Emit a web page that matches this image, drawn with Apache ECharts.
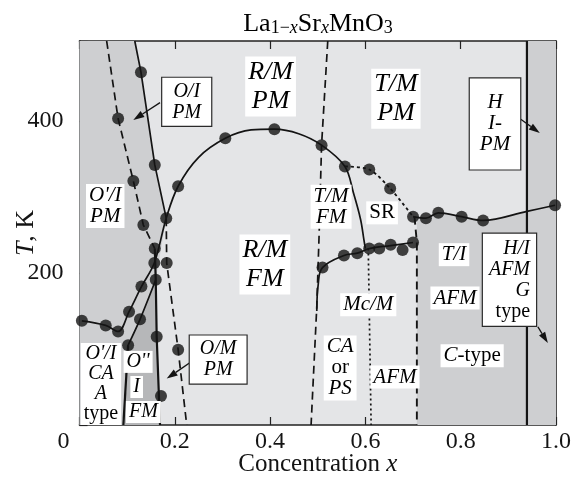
<!DOCTYPE html>
<html>
<head>
<meta charset="utf-8">
<script src="https://cdn.jsdelivr.net/npm/echarts@6/dist/echarts.min.js"></script>
<style>
  html, body { margin: 0; padding: 0; background: #ffffff; }
  #chart { width: 578px; height: 482px; }
</style>
</head>
<body>
<div id="chart"></div>
<script>
// ---- axes -------------------------------------------------------------
const X_MIN = 0, X_MAX = 1.0, X_STEP = 0.2;
const T_MIN = 0, T_MAX = 505, T_STEP = 200;
const T_LABELS = [200, 400];

// ---- phase boundaries (x, T in K) -------------------------------------
const leftDashed  = [[0.057, 505], [0.081, 403], [0.113, 321], [0.134, 263], [0.158, 232]];
const steepSolid  = [[0.116, 505], [0.129, 464], [0.158, 342], [0.182, 272]];
const steepDashed = [[0.182, 272], [0.183, 213], [0.207, 99], [0.225, 0]];
const tcCurve = [[0.005, 137], [0.055, 131], [0.081, 123], [0.104, 149], [0.130, 182], [0.157, 213],
  [0.182, 272], [0.207, 314], [0.250, 352], [0.306, 377], [0.360, 388], [0.409, 389], [0.460, 383],
  [0.508, 368], [0.557, 340], [0.575, 305], [0.590, 270], [0.597, 243], [0.600, 232]];
const oppLeft  = [[0.092, 0], [0.102, 105]];
const oppTop   = [[0.102, 105], [0.127, 139], [0.160, 191]];
const oppRight = [[0.158, 232], [0.160, 191], [0.162, 116], [0.169, 0]];
const dashedMid   = [[0.521, 505], [0.508, 368], [0.503, 253], [0.498, 156], [0.486, 0]];
const dottedMid   = [[0.606, 232], [0.612, 0]];
const dashedAFM   = [[0.703, 274], [0.708, 240], [0.708, 0]];
const srDotted    = [[0.557, 340], [0.608, 336], [0.652, 311], [0.700, 274]];
const afmCurve    = [[0.498, 150], [0.501, 185], [0.510, 207], [0.555, 223], [0.583, 226],
  [0.608, 232], [0.653, 236], [0.700, 240]];
const rightCurve  = [[0.700, 274], [0.727, 272], [0.753, 279], [0.802, 274], [0.847, 269],
  [0.939, 281], [0.998, 289]];
const hexLine     = [[0.939, 0], [0.939, 505]];

// ---- measured points ---------------------------------------------------
const ptsTc     = [[0.005, 137], [0.055, 131], [0.081, 123], [0.104, 149], [0.130, 182], [0.157, 213],
  [0.182, 272], [0.207, 314], [0.306, 377], [0.409, 389], [0.508, 368], [0.557, 340]];
const ptsLeft   = [[0.081, 403], [0.113, 321], [0.134, 263], [0.158, 232]];
const ptsSteep  = [[0.129, 464], [0.158, 342], [0.183, 213], [0.207, 99]];
const ptsOpp    = [[0.102, 105], [0.127, 139], [0.160, 191], [0.162, 116], [0.171, 38]];
const ptsSR     = [[0.608, 336], [0.652, 311], [0.700, 274]];
const ptsAFM    = [[0.510, 207], [0.555, 223], [0.583, 226], [0.608, 232], [0.629, 232],
  [0.653, 237], [0.678, 230], [0.700, 240]];
const ptsRight  = [[0.727, 272], [0.753, 279], [0.802, 274], [0.847, 269], [0.998, 289]];

// ---- shaded phase regions ----------------------------------------------
const regionOI  = [[0, 0], [0, 505], [0.116, 505], [0.129, 464], [0.158, 342], [0.182, 272],
  [0.160, 191], [0.169, 0]];
const regionOpp = [[0.092, 0], [0.102, 105], [0.127, 139], [0.160, 191], [0.162, 116], [0.169, 0]];
const regionC   = [[0.708, 0], [0.708, 272], [0.727, 272], [0.753, 279], [0.802, 274], [0.847, 269],
  [0.939, 281], [0.939, 0]];
const regionH   = [[0.939, 0], [0.939, 505], [1.0, 505], [1.0, 0]];

// ---- phase labels: anchor (x, T), text lines ---------------------------
const LABELS = [
  { x: 0.401, T: 445, text: '{i|R/M}\n{i|PM}', size: 26, lh: 29, box: 'white' },
  { x: 0.664, T: 429, text: '{i|T/M}\n{i|PM}', size: 26, lh: 29, box: 'white' },
  { x: 0.389, T: 211, text: '{i|R/M}\n{i|FM}', size: 26, lh: 29, box: 'white' },
  { x: 0.225, T: 425, text: '{i|O/I}\n{i|PM}', size: 20, lh: 21, box: 'frame', pad: [3, 10] },
  { x: 0.054, T: 288, text: "{i|O'/I}\n{i|PM}", size: 21, lh: 21, box: 'white' },
  { x: 0.528, T: 287, text: '{i|T/M}\n{i|FM}', size: 21, lh: 21, box: 'white' },
  { x: 0.635, T: 279, text: '{r|SR}', size: 21, lh: 21, box: 'white' },
  { x: 0.786, T: 224, text: '{i|T/I}', size: 21, lh: 21, box: 'white' },
  { x: 0.788, T: 167, text: '{i|AFM}', size: 21, lh: 21, box: 'white' },
  { x: 0.824, T: 91,  text: '{i|C}{r|-type}', size: 21, lh: 21, box: 'white' },
  { x: 0.872, T: 396, text: '{i|H}\n{i|I-}\n{i|PM}', size: 21, lh: 21, box: 'frame', pad: [14, 10] },
  { x: 0.914, T: 191, text: '{i|H/I}\n{i|AFM}\n{i|G}\n{r|type}', size: 20, lh: 21, box: 'frame', pad: [4, 6], align: 'right' },
  { x: 0.291, T: 86,  text: '{i|O/M}\n{i|PM}', size: 20, lh: 21, box: 'frame', pad: [3, 10] },
  { x: 0.045, T: 54,  text: "{i|O'/I}\n{i|CA}\n{i|A}\n{r|type}", size: 20, lh: 20, box: 'white' },
  { x: 0.123, T: 83,  text: "{i|O''}", size: 20, lh: 20, box: 'white' },
  { x: 0.120, T: 50,  text: '{i|I}', size: 20, lh: 20, box: 'white' },
  { x: 0.134, T: 17,  text: '{i|FM}', size: 20, lh: 20, box: 'white' },
  { x: 0.547, T: 75,  text: '{i|CA}\n{r|or}\n{i|PS}', size: 21, lh: 21, box: 'white' },
  { x: 0.606, T: 158, text: '{i|Mc/M}', size: 21, lh: 21, box: 'white' },
  { x: 0.662, T: 63,  text: '{i|AFM}', size: 21, lh: 21, box: 'white' }
];

// ---- pointer arrows: from (x, T) to (x, T) -----------------------------
const ARROWS = [
  [0.169, 424, 0.113, 401],
  [0.926, 402, 0.966, 384],
  [0.962, 129, 0.983, 108],
  [0.246, 88, 0.183, 61]
];

const FONT = '"Liberation Serif", "Times New Roman", serif';
const INK = '#141414';
const BG_LIGHT = '#e4e5e7';
const BG_MID = '#cecfd1';
const BG_DARK = '#b6b7b9';

function region(points, color) {
  return {
    type: 'custom', silent: true, z: 1, clip: true,
    data: [points[0]],
    renderItem: (params, api) => ({
      type: 'polygon',
      shape: { points: points.map(p => api.coord(p)) },
      style: { fill: color }
    })
  };
}

function boundary(data, dash, width, smooth) {
  return {
    type: 'line', data: data, z: 3, silent: true, symbol: 'none',
    smooth: smooth || false,
    lineStyle: { color: INK, width: width || 1.7, type: dash || 'solid' }
  };
}

function points(data) {
  return {
    type: 'scatter', data: data, z: 6, silent: true,
    symbol: 'circle', symbolSize: 12,
    itemStyle: { color: INK }
  };
}

function richFor(size, lh) {
  return {
    i: { fontFamily: FONT, fontStyle: 'italic', fontSize: size, lineHeight: lh, color: INK },
    r: { fontFamily: FONT, fontStyle: 'normal', fontSize: size, lineHeight: lh, color: INK }
  };
}

const chart = echarts.init(document.getElementById('chart'), null, { renderer: 'canvas' });

const option = {
  animation: false,
  backgroundColor: '#ffffff',
  grid: {
    left: 79.5, right: 22, top: 41, bottom: 57,
    containLabel: false, outerBoundsMode: 'none',
    show: true, backgroundColor: BG_LIGHT, borderWidth: 0
  },
  graphic: [{
    type: 'text', x: 318, y: 22, z: 10,
    style: {
      text: '{a|La}{s|1−}{si|x}{a|Sr}{si|x}{a|MnO}{s|3}',
      align: 'center', verticalAlign: 'middle',
      rich: {
        a: { fontFamily: FONT, fontSize: 26, lineHeight: 30, verticalAlign: 'bottom', color: INK },
        s: { fontFamily: FONT, fontSize: 18, lineHeight: 14, verticalAlign: 'bottom', color: INK },
        si: { fontFamily: FONT, fontStyle: 'italic', fontSize: 18, lineHeight: 14, verticalAlign: 'bottom', color: INK }
      }
    }
  }],
  xAxis: [{
    type: 'value', position: 'bottom', min: X_MIN, max: X_MAX, interval: X_STEP,
    name: '{r|Concentration }{i|x}', nameLocation: 'middle', nameGap: 25, nameMoveOverlap: false,
    nameTextStyle: { rich: richFor(25, 28) },
    axisLine: { show: true, onZero: false, lineStyle: { color: '#222', width: 1.6 } },
    axisTick: { show: true, inside: true, length: 8, lineStyle: { color: '#222', width: 1.2 } },
    splitLine: { show: false },
    axisLabel: {
      margin: 5, fontFamily: FONT, fontSize: 24, color: INK,
      formatter: v => (Math.abs(v) < 1e-9 ? '{z|0}' : v.toFixed(1)),
      rich: { z: { fontFamily: FONT, fontSize: 24, color: INK, padding: [0, 32, 0, 0] } }
    }
  }, {
    type: 'value', position: 'top', min: X_MIN, max: X_MAX, interval: X_STEP,
    axisLine: { show: true, onZero: false, lineStyle: { color: '#222', width: 1.6 } },
    axisTick: { show: true, inside: true, length: 8, lineStyle: { color: '#222', width: 1.2 } },
    axisLabel: { show: false }, splitLine: { show: false }
  }],
  yAxis: [{
    type: 'value', position: 'left', min: T_MIN, max: T_MAX, interval: T_STEP,
    name: '{i|T}{r|, K}', nameLocation: 'middle', nameGap: 38, nameRotate: 90, nameMoveOverlap: false,
    nameTextStyle: { rich: richFor(26, 30) },
    axisLine: { show: true, onZero: false, lineStyle: { color: '#222', width: 1.6 } },
    axisTick: { show: true, inside: true, length: 8, lineStyle: { color: '#222', width: 1.2 } },
    splitLine: { show: false },
    axisLabel: {
      margin: 16, fontFamily: FONT, fontSize: 24, color: INK,
      formatter: v => (T_LABELS.indexOf(v) >= 0 ? String(v) : '')
    }
  }, {
    type: 'value', position: 'right', min: T_MIN, max: T_MAX, interval: T_STEP,
    axisLine: { show: true, onZero: false, lineStyle: { color: '#222', width: 1.6 } },
    axisTick: { show: false }, axisLabel: { show: false }, splitLine: { show: false }
  }],
  series: [
    region(regionOI, BG_MID),
    region(regionOpp, BG_DARK),
    region(regionC, BG_MID),
    region(regionH, BG_MID),

    boundary(leftDashed, [8, 5]),
    boundary(steepSolid),
    boundary(steepDashed, [8, 5]),
    boundary(tcCurve, 'solid', 1.7, 0.35),
    boundary(oppLeft, 'solid', 2.2),
    boundary(oppTop, 'solid', 1.7, 0.3),
    boundary(oppRight, 'solid', 2.2),
    boundary(dashedMid, [8, 5]),
    boundary(dottedMid, [2, 3]),
    boundary(dashedAFM, [8, 5], 1.9),
    boundary(srDotted, [3, 3], 1.8, 0.3),
    boundary(afmCurve, 'solid', 1.7, 0.4),
    boundary(rightCurve, 'solid', 1.7, 0.35),
    boundary(hexLine, 'solid', 2.2),

    points(ptsTc), points(ptsLeft), points(ptsSteep), points(ptsOpp),
    points(ptsSR), points(ptsAFM), points(ptsRight),

    {
      type: 'custom', z: 7, silent: true, clip: false,
      data: ARROWS.map(a => [a[0], a[1]]),
      renderItem: (params, api) => {
        const a = ARROWS[params.dataIndex];
        const p1 = api.coord([a[0], a[1]]);
        const p2 = api.coord([a[2], a[3]]);
        const ang = Math.atan2(p2[1] - p1[1], p2[0] - p1[0]);
        const L = 11, W = 3.6;
        const bx = p2[0] - L * Math.cos(ang), by = p2[1] - L * Math.sin(ang);
        const nx = -Math.sin(ang) * W, ny = Math.cos(ang) * W;
        return {
          type: 'group',
          children: [
            { type: 'line', shape: { x1: p1[0], y1: p1[1], x2: bx, y2: by },
              style: { stroke: INK, lineWidth: 1.3 } },
            { type: 'polygon', shape: { points: [[p2[0], p2[1]], [bx + nx, by + ny], [bx - nx, by - ny]] },
              style: { fill: INK } }
          ]
        };
      }
    },

    {
      type: 'custom', z: 8, silent: true, clip: false,
      data: LABELS.map(l => [l.x, l.T]),
      renderItem: (params, api) => {
        const l = LABELS[params.dataIndex];
        const p = api.coord([l.x, l.T]);
        const framed = l.box === 'frame';
        const pad = l.pad || [1, 3];
        const style = {
          text: l.text,
          rich: richFor(l.size, l.lh),
          align: l.align || 'center',
          verticalAlign: 'middle',
          backgroundColor: '#ffffff',
          padding: pad
        };
        let x = p[0];
        if (l.align === 'right') {
          // anchor is the frame centre; shift to its right inner edge
          x = p[0] + 21;
        }
        if (framed) {
          style.borderColor = '#2a2a2a';
          style.borderWidth = 1.2;
        }
        return { type: 'text', x: x, y: p[1], style: style };
      }
    }
  ]
};

chart.setOption(option);
</script>
</body>
</html>
